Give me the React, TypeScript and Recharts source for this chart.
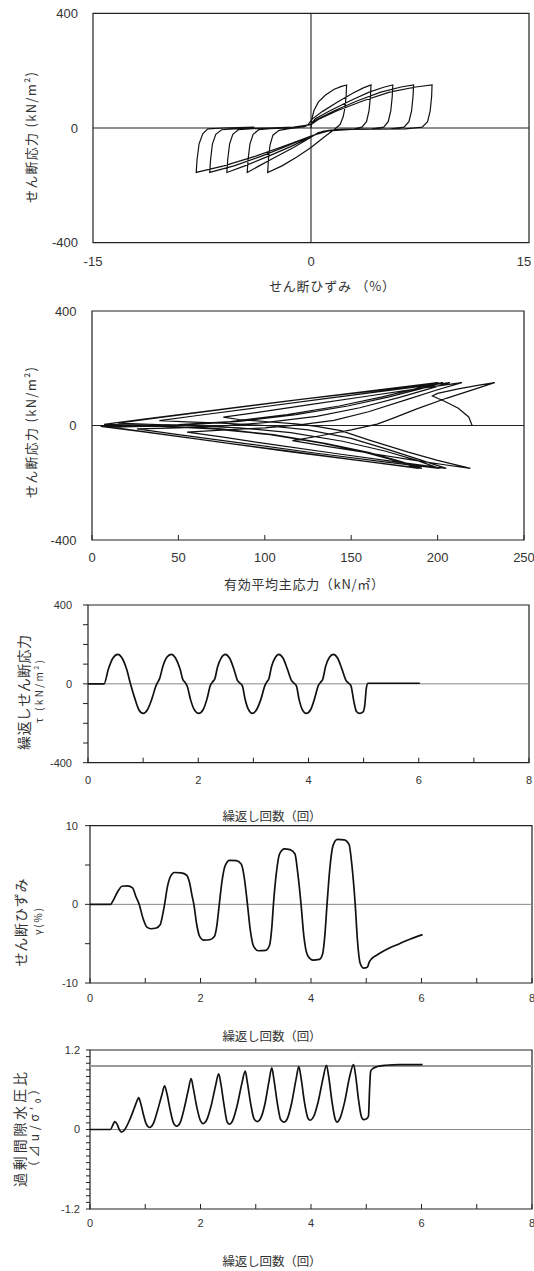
import React from 'react';
import { LineChart, Line, XAxis, YAxis, ReferenceLine, ReferenceArea, Label } from 'recharts';

const NUM_FONT = "'Liberation Sans', Arial, Helvetica, sans-serif";
const JP_FONT = "'Noto Sans CJK JP', 'Noto Sans', sans-serif";

type Pt = [number, number];

// ---------- Chart 1: shear stress vs shear strain (γ %, τ kN/m2) ----------
const strainLoad1: Pt[] = [[0, 0], [0.05, 30], [0.2, 60], [0.5, 90], [1.0, 115], [1.6, 135], [2.1, 145], [2.45, 150]];
const strainCycle1: Pt[] = [[2.42, 115], [2.35, 75], [2.22, 40], [2.0, 12], [1.6, -5], [1.0, -28], [0.0, -68], [-1.0, -102], [-2.0, -132], [-2.98, -155], [-2.93, -110], [-2.82, -60], [-2.62, -25], [-2.2, -8], [-1.5, -2], [-0.7, 3], [-0.2, 12]];
const strainCycle2: Pt[] = [[0.1, 32], [0.8, 58], [1.8, 90], [2.9, 122], [3.6, 140], [4.13, 150], [4.09, 110], [3.99, 60], [3.82, 22], [3.5, 3], [3.0, -3], [2.0, -5], [1.2, -8], [0.5, -16], [0.0, -32], [-1.2, -68], [-2.5, -103], [-3.6, -133], [-4.39, -155], [-4.33, -110], [-4.2, -55], [-3.98, -22], [-3.6, -6], [-2.8, -2], [-1.5, 0], [-0.5, 4], [0, 14]];
const strainCycle3: Pt[] = [[0.3, 32], [1.3, 60], [2.7, 95], [4.0, 125], [5.0, 142], [5.63, 150], [5.59, 110], [5.49, 60], [5.31, 22], [5.0, 3], [4.2, -3], [3.0, -4], [1.8, -6], [0.8, -12], [0.0, -30], [-1.4, -65], [-3.0, -100], [-4.6, -133], [-5.79, -155], [-5.73, -110], [-5.6, -55], [-5.38, -22], [-5.0, -6], [-4.0, -2], [-2.5, 0], [-1.0, 3], [0, 12]];
const strainCycle4: Pt[] = [[0.4, 30], [1.6, 60], [3.2, 95], [4.8, 125], [6.2, 143], [7.06, 150], [7.02, 110], [6.92, 60], [6.74, 22], [6.4, 3], [5.5, -3], [4.0, -4], [2.5, -5], [1.0, -10], [0.0, -28], [-1.6, -62], [-3.4, -98], [-5.3, -132], [-6.97, -155], [-6.91, -110], [-6.78, -55], [-6.55, -22], [-6.15, -6], [-5.0, -2], [-3.0, 0], [-1.2, 3], [0, 12]];
const strainCycle5: Pt[] = [[0.5, 30], [1.8, 60], [3.6, 95], [5.4, 125], [7.2, 143], [8.33, 150], [8.3, 110], [8.2, 60], [8.02, 22], [7.65, 3], [6.5, -3], [4.5, -4], [2.8, -5], [1.2, -10], [0.0, -28], [-1.8, -62], [-3.8, -98], [-6.0, -132], [-7.9, -155], [-7.84, -110], [-7.7, -55], [-7.45, -20], [-7.1, -3], [-6.0, 0], [-5.0, 1], [-3.9, 3]];

// ---------- Chart 2: stress path (p' kN/m2, τ kN/m2) ----------
const path0: Pt[] = [[220, 0], [218, 30], [212, 60], [204, 85], [197, 103], [200, 112], [212, 128], [224, 141], [233, 150]];
const path1: Pt[] = [[222, 128], [205, 95], [188, 58], [174, 25], [165, 5], [150, -15], [133, -35], [116, -53], [135, -72], [160, -96], [185, -120], [205, -138], [219, -150]];
const path2: Pt[] = [[200, -122], [183, -93], [160, -50], [144, -18], [130, -3], [118, 6], [100, 14], [85, 21], [76, 29], [95, 45], [125, 72], [160, 103], [190, 130], [214, 150]];
const path3: Pt[] = [[200, 125], [183, 92], [160, 48], [140, 18], [120, 2], [100, -8], [75, -16], [55, -23], [75, -40], [105, -67], [140, -97], [175, -126], [205, -150]];
const path4: Pt[] = [[190, -120], [172, -85], [150, -45], [125, -15], [100, 0], [75, 8], [55, 13], [39, 17], [60, 34], [95, 62], [135, 94], [172, 123], [207, 150]];
const path5: Pt[] = [[195, 128], [178, 98], [155, 62], [130, 32], [100, 10], [75, -2], [50, -8], [26, -12], [50, -32], [90, -64], [130, -97], [168, -126], [201, -150]];
const path6: Pt[] = [[188, -122], [170, -90], [145, -55], [115, -25], [85, -8], [55, 0], [30, 5], [15, 8], [40, 28], [80, 60], [122, 92], [165, 122], [203, 150]];
const path7: Pt[] = [[190, 128], [172, 100], [148, 68], [118, 38], [85, 14], [55, 2], [30, -3], [11, -6], [35, -26], [75, -59], [115, -92], [155, -123], [191, -150]];
const path8: Pt[] = [[178, -124], [160, -94], [135, -62], [105, -32], [75, -12], [45, -3], [20, 2], [7, 4], [30, 22], [70, 53], [115, 87], [160, 120], [200, 150]];
const path9: Pt[] = [[187, 128], [168, 100], [143, 68], [113, 38], [80, 14], [50, 3], [25, -1], [5, -3], [30, -22], [70, -55], [112, -88], [152, -120], [189, -150]];
const path10: Pt[] = [[176, -124], [158, -94], [133, -62], [103, -32], [70, -12], [40, -3], [15, 0], [5, 0]];

// ---------- Chart 3: cyclic shear stress vs cycles ----------
const tauSeries: Pt[] = [
  [0, 0], [0.29, 0], [0.37, 75], [0.45, 130], [0.54, 150], [0.62, 130], [0.70, 75], [0.77, 0],
  [0.85, -75], [0.92, -130], [1.0, -150], [1.08, -130], [1.16, -75], [1.24, -5], [1.27, 10], [1.30, 28],
  [1.36, 90], [1.43, 135], [1.51, 150], [1.59, 130], [1.67, 75], [1.72, 22], [1.76, 8], [1.80, -12],
  [1.86, -80], [1.93, -132], [2.01, -150], [2.09, -130], [2.16, -75], [2.22, -8], [2.26, 10], [2.30, 25],
  [2.35, 85], [2.42, 133], [2.49, 150], [2.57, 130], [2.65, 72], [2.71, 18], [2.75, 5], [2.80, -10],
  [2.85, -78], [2.91, -130], [2.98, -150], [3.06, -130], [3.14, -75], [3.21, -8], [3.24, 8], [3.28, 25],
  [3.33, 88], [3.40, 135], [3.46, 150], [3.54, 130], [3.62, 72], [3.69, 18], [3.73, 5], [3.78, -10],
  [3.83, -80], [3.89, -132], [3.96, -150], [4.04, -130], [4.11, -75], [4.18, -8], [4.22, 8], [4.26, 25],
  [4.31, 88], [4.38, 135], [4.45, 150], [4.53, 130], [4.61, 72], [4.68, 18], [4.72, 5], [4.77, -10],
  [4.82, -85], [4.87, -140], [4.93, -150], [4.99, -142], [5.02, -110], [5.05, -20], [5.08, 3], [5.2, 3], [6.02, 3],
];

// ---------- Chart 4: shear strain vs cycles ----------
const gammaSeries: Pt[] = [
  [0, 0], [0.37, 0], [0.42, 0.5], [0.5, 1.6], [0.58, 2.3], [0.68, 2.35], [0.77, 2.1], [0.83, 1.0], [0.89, 0],
  [0.96, -1.8], [1.03, -2.9], [1.1, -3.1], [1.2, -3.0], [1.27, -2.6], [1.31, -1.5], [1.35, 0],
  [1.4, 2.2], [1.46, 3.6], [1.53, 4.05], [1.65, 4.0], [1.75, 3.7], [1.8, 2.8], [1.85, 1.0], [1.88, 0],
  [1.93, -2.5], [1.98, -4.0], [2.06, -4.55], [2.17, -4.5], [2.25, -4.1], [2.3, -2.5], [2.34, 0],
  [2.39, 3.0], [2.45, 5.0], [2.53, 5.6], [2.65, 5.55], [2.74, 5.1], [2.79, 3.5], [2.85, 0],
  [2.9, -3.2], [2.96, -5.3], [3.05, -5.9], [3.18, -5.85], [3.25, -5.2], [3.29, -3.0], [3.32, 0],
  [3.37, 3.8], [3.43, 6.4], [3.52, 7.05], [3.62, 6.95], [3.71, 6.4], [3.76, 4.0], [3.82, 0],
  [3.87, -4.0], [3.94, -6.5], [4.04, -7.1], [4.15, -7.0], [4.21, -6.3], [4.25, -4.0], [4.29, 0],
  [4.34, 4.5], [4.4, 7.5], [4.48, 8.25], [4.6, 8.2], [4.69, 7.6], [4.74, 5.0], [4.8, 0],
  [4.84, -4.5], [4.89, -7.5], [4.95, -8.1], [5.02, -8.0], [5.05, -7.4], [5.1, -6.9], [5.2, -6.4],
  [5.4, -5.6], [5.6, -5.0], [5.8, -4.4], [6.02, -3.85],
];

// ---------- Chart 5: excess pore water pressure ratio vs cycles ----------
const ruSeries: Pt[] = [
  [0, 0], [0.37, 0], [0.42, 0.08], [0.45, 0.12], [0.49, 0.08], [0.53, 0.0], [0.57, -0.04], [0.63, 0.0],
  [0.72, 0.15], [0.8, 0.32], [0.85, 0.43], [0.88, 0.48], [0.91, 0.42], [0.96, 0.25], [1.02, 0.08], [1.08, 0.03],
  [1.14, 0.08], [1.22, 0.28], [1.3, 0.52], [1.35, 0.66], [1.39, 0.55], [1.45, 0.3], [1.51, 0.1], [1.57, 0.05],
  [1.63, 0.1], [1.7, 0.3], [1.78, 0.6], [1.83, 0.77], [1.87, 0.62], [1.93, 0.35], [2.0, 0.13], [2.05, 0.09],
  [2.11, 0.14], [2.19, 0.35], [2.27, 0.65], [2.33, 0.84], [2.37, 0.68], [2.43, 0.35], [2.48, 0.12], [2.52, 0.08],
  [2.58, 0.13], [2.66, 0.35], [2.75, 0.7], [2.81, 0.88], [2.85, 0.7], [2.91, 0.38], [2.97, 0.16], [3.03, 0.12],
  [3.09, 0.17], [3.17, 0.4], [3.24, 0.73], [3.29, 0.93], [3.33, 0.75], [3.39, 0.4], [3.45, 0.15], [3.51, 0.11],
  [3.57, 0.16], [3.65, 0.4], [3.73, 0.76], [3.78, 0.95], [3.82, 0.78], [3.88, 0.42], [3.94, 0.18], [3.98, 0.14],
  [4.05, 0.2], [4.13, 0.42], [4.22, 0.78], [4.28, 0.97], [4.32, 0.8], [4.38, 0.42], [4.44, 0.15], [4.47, 0.11],
  [4.53, 0.18], [4.61, 0.42], [4.7, 0.8], [4.77, 0.98], [4.81, 0.8], [4.86, 0.45], [4.91, 0.2], [4.95, 0.15],
  [5.0, 0.16], [5.04, 0.2], [5.06, 0.6], [5.08, 0.88], [5.12, 0.92], [5.2, 0.95], [5.35, 0.97], [5.6, 0.98], [6.02, 0.98],
];
const ruLimit = 0.96;

// ---------- tick labels ----------
const strainTicks = [-15, 0, 15];
const stressTicks = [-400, 0, 400];
const pTicks = [0, 50, 100, 150, 200, 250];
const cycleTicks = [0, 1, 2, 3, 4, 5, 6, 7, 8];
const tauTicks = [-400, -300, -200, -100, 0, 100, 200, 300, 400];
const gammaTicks = [-10, -5, 0, 5, 10];
const ruTicks = [-1.2, -1.1, -1.0, -0.9, -0.8, -0.7, -0.6, -0.5, -0.4, -0.3, -0.2, -0.1, 0, 0.1, 0.2, 0.3, 0.4, 0.5, 0.6, 0.7, 0.8, 0.9, 1.0, 1.1, 1.2];

const toRows = (...segs: Pt[][]) => segs.flat().map(([x, y]) => ({ x, y }));
const strainData = toRows(strainLoad1, strainCycle1, strainCycle2, strainCycle3, strainCycle4, strainCycle5);
const pathData = toRows(path0, path1, path2, path3, path4, path5, path6, path7, path8, path9, path10);
const tauData = toRows(tauSeries);
const gammaData = toRows(gammaSeries);
const ruData = toRows(ruSeries);

type TL = { x: number; y: number; text: string; size: number; len?: number };
const vLabel = (lines: TL[]) => () => (
  <g>
    {lines.map((l, i) => (
      <text key={i} x={l.x} y={l.y} transform={`rotate(-90 ${l.x} ${l.y})`} textAnchor="middle"
        dominantBaseline="central" fontSize={l.size} fontFamily={JP_FONT} fill="#333"
        textLength={l.len} lengthAdjust="spacing">{l.text}</text>
    ))}
  </g>
);
const hLabel = (l: TL) => () => (
  <text x={l.x} y={l.y} textAnchor="middle" dominantBaseline="central" fontSize={l.size}
    fontFamily={JP_FONT} fill="#333" textLength={l.len} lengthAdjust="spacing">{l.text}</text>
);

const numTick = (size: number) => ({ fontSize: size, fill: '#333', fontFamily: NUM_FONT });
const evenFmt = (v: number) => (v % 2 === 0 ? String(v) : '');
const ruFmt = (v: number) => (v === 1.2 ? '1.2' : v === -1.2 ? '-1.2' : v === 0 ? '0' : '');
const tauFmt = (v: number) => (v === 400 || v === -400 || v === 0 ? String(v) : '');
const gammaFmt = (v: number) => (v === 10 || v === -10 || v === 0 ? String(v) : '');

const strainTick = (props: any) => {
  const v = props.payload.value;
  const shift = v === 15 ? -5 : 0;
  return (
    <text x={props.x + shift} y={props.y} dy="0.71em" textAnchor="middle" fontSize={13}
      fill="#333" fontFamily={NUM_FONT}>{v}</text>
  );
};

const box = '#222';

function Chart1() {
  return (
    <div style={{ position: 'absolute', left: 0, top: 0 }}>
      <LineChart width={534} height={300} data={strainData} margin={{ top: 13.3, right: 5, bottom: 27.3, left: 43 }}>
        <XAxis type="number" dataKey="x" domain={[-15, 15]} ticks={strainTicks} interval={0} axisLine={false}
          tickLine={false} tickSize={6} tickMargin={7.7} height={30} tick={strainTick}>
          <Label content={hLabel({ x: 332, y: 285.7, text: 'せん断ひずみ （%）', size: 13, len: 126 })} />
        </XAxis>
        <YAxis type="number" domain={[-400, 400]} ticks={stressTicks} interval={0} axisLine={false}
          tickLine={false} tickSize={6} tickMargin={9} width={50} tick={numTick(13)}>
          <Label content={vLabel([{ x: 30, y: 137.5, text: 'せん断応力 (kN/m²)', size: 13, len: 131 }])} />
        </YAxis>
        <ReferenceArea x1={-15} x2={15} y1={-400} y2={400} fill="none" fillOpacity={0} stroke={box} strokeWidth={1.2} />
        <ReferenceLine x={0} stroke={box} strokeWidth={1.1} />
        <ReferenceLine y={0} stroke={box} strokeWidth={1.1} />
        <Line type="linear" dataKey="y" stroke="#111" strokeWidth={1.2} dot={false} isAnimationActive={false} />
      </LineChart>
    </div>
  );
}

function Chart2() {
  return (
    <div style={{ position: 'absolute', left: 0, top: 295 }}>
      <LineChart width={534} height={305} data={pathData} margin={{ top: 16, right: 10, bottom: 30, left: 42 }}>
        <XAxis type="number" dataKey="x" domain={[0, 250]} ticks={pTicks} interval={0} axisLine={false}
          tickLine={{ stroke: box }} tickSize={-5} tickMargin={17.7} height={30} tick={numTick(13)}>
          <Label content={hLabel({ x: 304, y: 288.3, text: '有効平均主応力（kN/㎡）', size: 13, len: 160 })} />
        </XAxis>
        <YAxis type="number" domain={[-400, 400]} ticks={stressTicks} interval={0} axisLine={false}
          tickLine={false} tickSize={6} tickMargin={9.4} width={50} tick={numTick(13)}>
          <Label content={vLabel([{ x: 30, y: 137.5, text: 'せん断応力 (kN/m²)', size: 13, len: 131 }])} />
        </YAxis>
        <ReferenceArea x1={0} x2={250} y1={-400} y2={400} fill="none" fillOpacity={0} stroke={box} strokeWidth={1.2} />
        <ReferenceLine y={0} stroke={box} strokeWidth={1.1} />
        <Line type="linear" dataKey="y" stroke="#111" strokeWidth={1.2} dot={false} isAnimationActive={false} />
      </LineChart>
    </div>
  );
}

function Chart3() {
  return (
    <div style={{ position: 'absolute', left: 0, top: 595 }}>
      <LineChart width={534} height={250} data={tauData} margin={{ top: 10, right: 5, bottom: 52.3, left: 48 }}>
        <XAxis type="number" dataKey="x" domain={[0, 8]} ticks={cycleTicks} interval={0} axisLine={false}
          tickLine={{ stroke: box }} tickSize={-5} tickMargin={18.4} height={30} tick={numTick(11)} tickFormatter={evenFmt}>
          <Label content={hLabel({ x: 272, y: 220, text: '繰返し回数（回）', size: 12.5, len: 99 })} />
        </XAxis>
        <YAxis type="number" domain={[-400, 400]} ticks={tauTicks} interval={0} axisLine={false}
          tickLine={{ stroke: box }} tickSize={5} tickMargin={11} width={40} tick={numTick(11)} tickFormatter={tauFmt}>
          <Label content={vLabel([
            { x: 23, y: 97.5, text: '繰返しせん断応力', size: 14, len: 115 },
            { x: 38, y: 96.5, text: 'τ (kN/m²)', size: 10, len: 63 },
          ])} />
        </YAxis>
        <ReferenceArea x1={0} x2={8} y1={-400} y2={400} fill="none" fillOpacity={0} stroke={box} strokeWidth={1.2} />
        <ReferenceLine y={0} stroke="#888" strokeWidth={1} />
        <Line type="monotone" dataKey="y" stroke="#111" strokeWidth={1.7} dot={false} isAnimationActive={false} />
      </LineChart>
    </div>
  );
}

function Chart4() {
  return (
    <div style={{ position: 'absolute', left: 0, top: 815 }}>
      <LineChart width={534} height={235} data={gammaData} margin={{ top: 10.7, right: 2, bottom: 37, left: 50 }}>
        <XAxis type="number" dataKey="x" domain={[0, 8]} ticks={cycleTicks} interval={0} axisLine={false}
          tickLine={{ stroke: box }} tickSize={-5} tickMargin={16.1} height={30} tick={numTick(11)} tickFormatter={evenFmt}>
          <Label content={hLabel({ x: 272, y: 220, text: '繰返し回数（回）', size: 12.5, len: 99 })} />
        </XAxis>
        <YAxis type="number" domain={[-10, 10]} ticks={gammaTicks} interval={0} axisLine={false}
          tickLine={{ stroke: box }} tickSize={5} tickMargin={7} width={40} tick={numTick(11)} tickFormatter={gammaFmt}>
          <Label content={vLabel([
            { x: 20.4, y: 107.5, text: 'せん断ひずみ', size: 14, len: 88 },
            { x: 37.5, y: 106.5, text: 'γ(%)', size: 10, len: 27 },
          ])} />
        </YAxis>
        <ReferenceArea x1={0} x2={8} y1={-10} y2={10} fill="none" fillOpacity={0} stroke={box} strokeWidth={1.2} />
        <ReferenceLine y={0} stroke="#888" strokeWidth={1} />
        <Line type="monotone" dataKey="y" stroke="#111" strokeWidth={1.7} dot={false} isAnimationActive={false} />
      </LineChart>
    </div>
  );
}

function Chart5() {
  return (
    <div style={{ position: 'absolute', left: 0, top: 1040 }}>
      <LineChart width={534} height={231} data={ruData} margin={{ top: 10, right: 2, bottom: 32, left: 50 }}>
        <XAxis type="number" dataKey="x" domain={[0, 8]} ticks={cycleTicks} interval={0} axisLine={false}
          tickLine={{ stroke: box }} tickSize={-5} tickMargin={15.6} height={30} tick={numTick(11)} tickFormatter={evenFmt}>
          <Label content={hLabel({ x: 272, y: 220, text: '繰返し回数（回）', size: 12.5, len: 99 })} />
        </XAxis>
        <YAxis type="number" domain={[-1.2, 1.2]} ticks={ruTicks} interval={0} axisLine={false}
          tickLine={{ stroke: box }} tickSize={4} tickMargin={6} width={40} tick={numTick(11)} tickFormatter={ruFmt}>
          <Label content={vLabel([
            { x: 19, y: 89.5, text: '過剰間隙水圧比', size: 14, len: 115 },
            { x: 33, y: 88, text: '（⊿u/σ′₀）', size: 12, len: 90 },
          ])} />
        </YAxis>
        <ReferenceArea x1={0} x2={8} y1={-1.2} y2={1.2} fill="none" fillOpacity={0} stroke={box} strokeWidth={1.2} />
        <ReferenceLine y={0} stroke="#888" strokeWidth={1} />
        <ReferenceLine y={ruLimit} stroke="#999" strokeWidth={2} />
        <Line type="monotone" dataKey="y" stroke="#111" strokeWidth={1.7} dot={false} isAnimationActive={false} />
      </LineChart>
    </div>
  );
}

export default function App() {
  return (
    <div style={{ position: 'absolute', left: 0, top: 0, width: 534, height: 1271, background: '#fff' }}>
      <Chart1 />
      <Chart2 />
      <Chart3 />
      <Chart4 />
      <Chart5 />
    </div>
  );
}
